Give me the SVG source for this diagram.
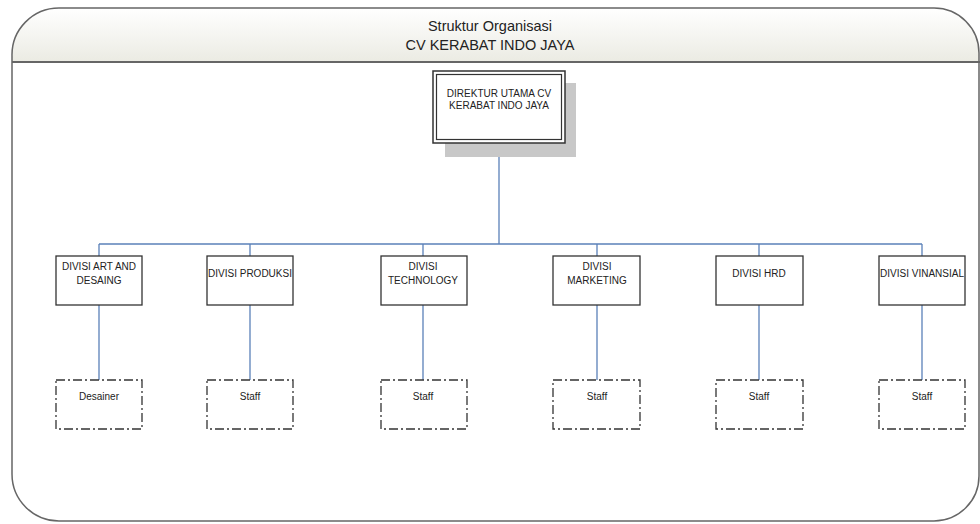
<svg xmlns="http://www.w3.org/2000/svg" width="980" height="524" viewBox="0 0 980 524">
<defs>
<linearGradient id="hdr" x1="0" y1="0" x2="0" y2="1">
<stop offset="0" stop-color="#ffffff"/>
<stop offset="1" stop-color="#ebebe3"/>
</linearGradient>
<clipPath id="frameclip">
<path d="M12,56 A47,47 0 0 1 59,8 L934,8 A45,45 0 0 1 979,53 L979,476 A45,45 0 0 1 934,521 L59,521 A47,47 0 0 1 12,474 Z"/>
</clipPath>
</defs>
<style>
text{font-family:"Liberation Sans",Arial,sans-serif;fill:#222;text-anchor:middle}
.t{font-size:14.5px}
.n{font-size:10px}
.div{fill:#fff;stroke:#333;stroke-width:1.3}
.staff{fill:#fff;stroke:#333;stroke-width:1.3;stroke-dasharray:9 3 2 3}
.c{stroke:#5a80b8;stroke-width:1.3;fill:none}
</style>
<rect width="980" height="524" fill="#fff"/>
<g id="frame">
<rect x="12" y="8" width="968" height="54" fill="url(#hdr)" clip-path="url(#frameclip)"/>
<path d="M12,56 A47,47 0 0 1 59,8 L934,8 A45,45 0 0 1 979,53 L979,476 A45,45 0 0 1 934,521 L59,521 A47,47 0 0 1 12,474 Z" fill="none" stroke="#666" stroke-width="1.5"/>
<line x1="12" y1="62" x2="980" y2="62" stroke="#666" stroke-width="2"/>
<text class="t" x="490" y="31">Struktur Organisasi</text>
<text class="t" x="490" y="50">CV KERABAT INDO JAYA</text>
</g>
<g id="connectors">
<line class="c" x1="499" y1="143" x2="499" y2="244"/>
<line class="c" x1="99" y1="244" x2="922" y2="244"/>
<line class="c" x1="99" y1="244" x2="99" y2="256"/>
<line class="c" x1="250" y1="244" x2="250" y2="256"/>
<line class="c" x1="423" y1="244" x2="423" y2="256"/>
<line class="c" x1="597" y1="244" x2="597" y2="256"/>
<line class="c" x1="759" y1="244" x2="759" y2="256"/>
<line class="c" x1="922" y1="244" x2="922" y2="256"/>
<line class="c" x1="99" y1="305" x2="99" y2="380"/>
<line class="c" x1="250" y1="305" x2="250" y2="380"/>
<line class="c" x1="423" y1="305" x2="423" y2="380"/>
<line class="c" x1="597" y1="305" x2="597" y2="380"/>
<line class="c" x1="759" y1="305" x2="759" y2="380"/>
<line class="c" x1="922" y1="305" x2="922" y2="380"/>
</g>
<g id="direktur">
<rect x="445" y="83" width="131" height="74" fill="#c8c8c8"/>
<rect x="433" y="71" width="132" height="72" fill="#fff" stroke="#333" stroke-width="1.5"/>
<rect x="436.5" y="74.5" width="125" height="65" fill="none" stroke="#333" stroke-width="1.2"/>
<text class="n" x="499" y="97">DIREKTUR UTAMA CV</text>
<text class="n" x="499" y="109">KERABAT INDO JAYA</text>
</g>
<g id="div-art">
<rect class="div" x="56" y="256" width="86" height="49"/>
<text class="n" x="99" y="270">DIVISI ART AND</text>
<text class="n" x="99" y="284">DESAING</text>
</g>
<g id="div-produksi">
<rect class="div" x="207" y="256" width="86" height="49"/>
<text class="n" x="250" y="277">DIVISI PRODUKSI</text>
</g>
<g id="div-technology">
<rect class="div" x="381" y="256" width="86" height="49"/>
<text class="n" x="423" y="270">DIVISI</text>
<text class="n" x="423" y="284">TECHNOLOGY</text>
</g>
<g id="div-marketing">
<rect class="div" x="553" y="256" width="87" height="49"/>
<text class="n" x="597" y="270">DIVISI</text>
<text class="n" x="597" y="284">MARKETING</text>
</g>
<g id="div-hrd">
<rect class="div" x="716" y="256" width="87" height="49"/>
<text class="n" x="759" y="277">DIVISI HRD</text>
</g>
<g id="div-vinansial">
<rect class="div" x="879" y="256" width="86" height="49"/>
<text class="n" x="922" y="277">DIVISI VINANSIAL</text>
</g>
<g id="staff-art">
<rect class="staff" x="56" y="380" width="86" height="49"/>
<text class="n" x="99" y="400">Desainer</text>
</g>
<g id="staff-produksi">
<rect class="staff" x="207" y="380" width="86" height="49"/>
<text class="n" x="250" y="400">Staff</text>
</g>
<g id="staff-technology">
<rect class="staff" x="381" y="380" width="86" height="49"/>
<text class="n" x="423" y="400">Staff</text>
</g>
<g id="staff-marketing">
<rect class="staff" x="553" y="380" width="87" height="49"/>
<text class="n" x="597" y="400">Staff</text>
</g>
<g id="staff-hrd">
<rect class="staff" x="716" y="380" width="87" height="49"/>
<text class="n" x="759" y="400">Staff</text>
</g>
<g id="staff-vinansial">
<rect class="staff" x="879" y="380" width="86" height="49"/>
<text class="n" x="922" y="400">Staff</text>
</g>
</svg>
